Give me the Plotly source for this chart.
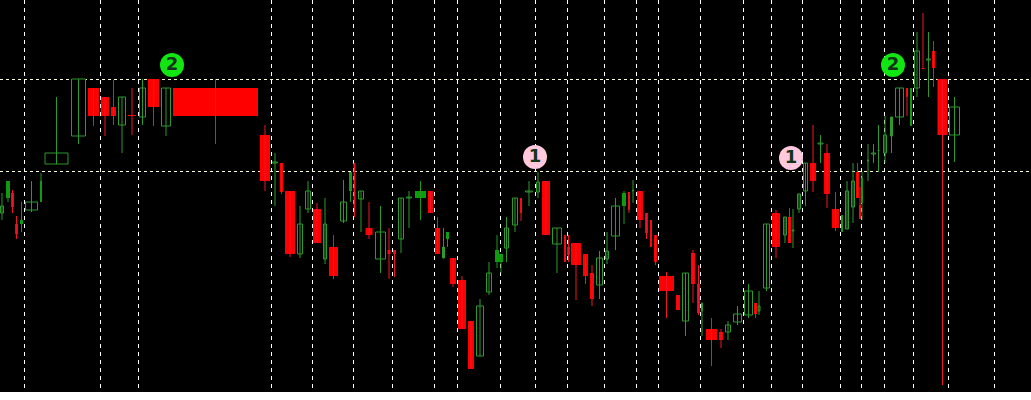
import plotly.graph_objects as go

bar_time = [2,8,12.5,16.5,21.5,31.5,41,56.5,78.5,93.5,
105,113.5,122,132,142.5,153.5,166,215.5,265,275,
281.5,290,300,308,317,325,333.5,343.5,350.5,354.5,
361,369,380.5,389,394.5,401,409,420.5,430.5,437.5,
443.5,447.5,453,462,471,480,489,497,501,506.5,
515,521,529,538,546,557,565,568.5,576,585.5,
592,599.5,607,615.5,624,629,633,640,646.5,651,
655.5,666.5,678,685.5,693,698.5,702,711.5,721,728,
737.5,748.5,755.5,759,766.5,776,785,789.5,793,799,
805.5,813,820.5,827,835.5,842,847,853,857.5,860,
862,868,873.5,878.5,885,891.5,899.5,907,911,917,
923,928.5,933.5,942.5,954.5]
bar_volume = [4,4,3,3,3,13,2,24,15,11,
8,5,8,8,7,11,10,85,10,6,
3.5,10,6,6,8,4,9,7,3,2,
6,7,11,3,3,6,6,11,5,5,
3,3,6,8,6,8,6,4,4,5,
6,2,8,4,8,10,1.5,3,10,5,
4,7,4,9,4,2,2,6,3,1.5,
3,15,4,7,4,3,2,11,4,6,
9,9,3,3,7,8,4,3,3,4,
5,6,6,6,7,1.5,4,4,3,2,
1.5,1,5,1,4,3,9,2,2,6,
3,5,3,10,11]
body_top = [194,219,207,176,180,198,219,247,321,312,
303,293,303,285,312,321,312,312,265,238,
237,209,176,209,191,176,153,198,228,237,
209,172,168,150,150,202,203,209,209,172,
153,168,142,120,79,94,127,150,146,172,
202,202,209,218,219,172,165,153,157,146,
127,142,149,194,207,208,210,209,187,180,
165,124,105,127,147,116,97,71,68,75,
86,109,97,94,176,187,183,183,170,206,
237,237,257,247,191,185,209,219,228,195,
222,240,247,250,265,283,312,312,312,349,
332,341,349,321,293]
body_bottom = [187,202,193,166,176,190,198,236,264,284,
284,284,275,284,283,293,274,284,219,237,
208,146,146,191,157,141,124,179,209,192,
201,165,141,146,146,161,202,202,187,146,
142,161,116,71,31,44,108,138,138,152,
175,187,208,208,165,156,138,145,135,124,
101,115,141,164,194,190,209,180,167,153,
138,109,90,79,116,87,89,60,60,68,
78,85,86,89,112,153,165,157,169,191,
209,219,256,206,172,168,171,193,202,181,
197,239,246,249,247,264,283,303,274,312,
331,340,332,265,265]
high = [207,219,210,184,198,219,227,303,321,312,
303,320,303,312,321,321,312,321,275,247,
237,209,194,219,197,202,165,220,228,237,
209,198,194,172,150,202,209,219,209,183,
172,168,142,124,79,101,138,165,146,183,
202,202,219,228,219,172,165,165,157,146,
135,149,168,202,209,208,220,209,187,180,
165,128,105,127,150,135,97,82,71,79,
94,116,97,109,176,190,183,192,191,206,
237,275,265,256,208,185,219,237,237,213,
228,256,256,275,284,283,312,312,312,368,
387,368,359,321,303]
low = [180,198,187,161,168,188,198,236,256,274,
264,275,247,265,275,274,264,256,209,194,
206,143,142,187,157,136,121,177,198,183,
168,161,127,121,123,147,172,180,187,146,
142,153,113,71,31,44,105,132,127,138,
168,179,194,202,165,127,138,138,100,116,
94,101,136,150,176,187,197,172,161,153,
135,82,90,64,97,85,64,34,52,60,
75,82,82,85,109,142,157,157,152,187,
194,208,237,192,169,168,171,177,202,181,
180,219,237,228,237,247,275,284,274,303,
331,303,313,15,238]
bar_kind = list("hsrrshshhr" "rrhrhrhrrh" "rrhhrhrhsr" "hrhrrhhsrr"
                "hsrrrhhssh" "hrhhrhrrrr" "rhhhsrhrrr" "rrrhrrhrrh"
                "hhrhhrhrhh" "hrhrrshhrr" "shhhhhhrsh" "rhrrh")

grid_times = [1,24,100,138,271,312,353,392,434,457,500,535,567,604,636,
              658,700,743,771,802,840,861,884,913,948,994]
grid_prices = [229,321]

signal_time = [172,535,791,893]
signal_price = [335,243,242,335]
signal_label = ["2","1","1","2"]
signal_color = ["#12e612","#ffc8dc","#ffc8dc","#12e612"]

STYLE = {
    "h": dict(wick="#2c9a2c", fill="#000000", line="#2c9a2c"),
    "s": dict(wick="#1c961c", fill="#0a9e0a", line="#0a9e0a"),
    "r": dict(wick="#f01428", fill="#ff0000", line="#ff0000"),
}

fig = go.Figure()

for kind, st in STYLE.items():
    idx = [i for i, k in enumerate(bar_kind) if k == kind]
    wx, wy = [], []
    for i in idx:
        wx += [bar_time[i], bar_time[i], None]
        wy += [high[i], low[i], None]
    fig.add_trace(go.Scatter(x=wx, y=wy, mode="lines", hoverinfo="skip", showlegend=False,
                             line=dict(color=st["wick"], width=1)))

for kind, st in STYLE.items():
    idx = [i for i, k in enumerate(bar_kind) if k == kind]
    inset = 1 if kind == "h" else 0
    fig.add_trace(go.Bar(
        x=[bar_time[i] for i in idx],
        y=[body_top[i] - body_bottom[i] for i in idx],
        base=[body_bottom[i] for i in idx],
        width=[max(bar_volume[i] - inset, 1) for i in idx],
        marker=dict(color=st["fill"], line=dict(color=st["line"], width=1 if kind == "h" else 0)),
        showlegend=False, hoverinfo="skip",
    ))

fig.add_trace(go.Scatter(
    x=signal_time, y=signal_price, mode="markers+text", text=signal_label,
    textposition="middle center", hoverinfo="skip", showlegend=False,
    marker=dict(size=24, color=signal_color, line=dict(width=0)),
    textfont=dict(family="DejaVu Sans", size=18, color="#12331a", weight="bold"),
))

fig.update_layout(
    width=1031, height=400, autosize=False, barmode="overlay",
    margin=dict(l=0, r=0, t=0, b=8, pad=0),
    paper_bgcolor="#ffffff", plot_bgcolor="#000000",
    xaxis=dict(range=[0, 1031], tickmode="array", tickvals=grid_times, showticklabels=False,
               ticks="", showgrid=True, gridcolor="#ffffff", griddash="4px,4px", gridwidth=1,
               zeroline=False, showline=False),
    yaxis=dict(range=[8, 400], tickmode="array", tickvals=grid_prices, showticklabels=False,
               ticks="", showgrid=True, gridcolor="#ffffd8", griddash="3px,3px", gridwidth=1,
               zeroline=False, showline=False),
)

fig.write_html("out.html", config=dict(displayModeBar=False),
               post_script="document.body.style.margin='0';document.body.style.overflow='hidden';")
